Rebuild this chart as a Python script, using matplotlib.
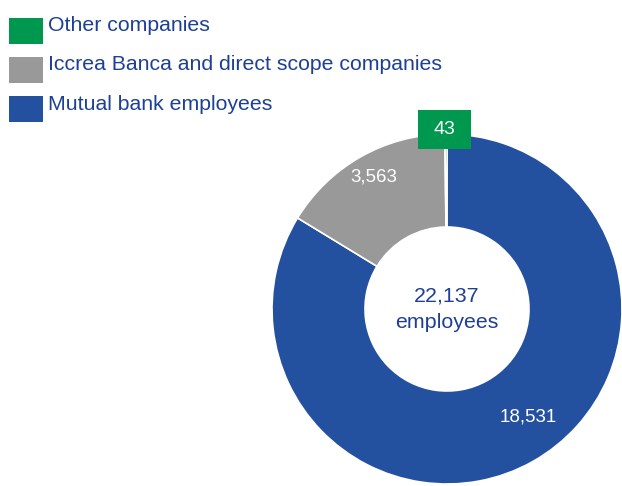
import numpy as np
import matplotlib
matplotlib.use("Agg")
import matplotlib.pyplot as plt
from matplotlib.patches import Rectangle

# Workforce breakdown
categories = ["Mutual bank employees",
              "Iccrea Banca and direct scope companies",
              "Other companies"]
values = [18531, 3563, 43]
colors = ["#23509F", "#999999", "#00984F"]
legend_order = [2, 1, 0]
center_caption = "employees"

W, H = 622, 486
fig = plt.figure(figsize=(W / 100, H / 100), dpi=100)
ax = fig.add_axes([0, 0, 1, 1])

cx, cy = 447, H - 309
R = 175
ring = 93

wedges, _ = ax.pie(values, colors=colors, startangle=90, counterclock=False,
                   center=(cx, cy), radius=R,
                   wedgeprops=dict(width=ring, edgecolor="white", linewidth=1.2))

ax.set_xlim(0, W)
ax.set_ylim(0, H)
ax.set_aspect("equal")
ax.axis("off")

text_blue = "#1D3F95"
sans = ["Liberation Sans", "DejaVu Sans"]

# Value labels inside the ring (radius fraction, angle in degrees)
label_spots = [(0.77, -53), (0.865, 119)]
for i, (rf, ang) in enumerate(label_spots):
    a = np.deg2rad(ang)
    ax.text(cx + rf * R * np.cos(a), cy + rf * R * np.sin(a),
            f"{values[i]:,}", color="white", fontsize=13.5,
            family=sans, ha="center", va="center")

# Small slice: value in a flag box above the ring
w = wedges[2]
mid = np.deg2rad((w.theta1 + w.theta2) / 2)
bx = cx + R * np.cos(mid) - 1
by = cy + (R + 4.5)
bw, bh = 53, 39
ax.add_patch(Rectangle((bx - bw / 2, by - bh / 2), bw, bh,
                       facecolor=colors[2], edgecolor="none", zorder=5))
ax.text(bx, by, f"{values[2]:,}", color="white", fontsize=14,
        family=sans, ha="center", va="center", zorder=6)

# Total in the hole
ax.text(cx, cy + 13, f"{sum(values):,}", color=text_blue, fontsize=15.4,
        family=sans, ha="center", va="center")
ax.text(cx, cy - 14, center_caption, color=text_blue, fontsize=15.4,
        family=sans, ha="center", va="center")

# Legend
for row, idx in enumerate(legend_order):
    yc = H - (31 + row * 39)
    ax.add_patch(Rectangle((9, yc - 13), 34, 26, facecolor=colors[idx],
                           edgecolor="none"))
    ax.text(48, yc + 5, categories[idx], color=text_blue, fontsize=15.35,
            family=sans, ha="left", va="center")

fig.savefig("out.png", dpi=100)
